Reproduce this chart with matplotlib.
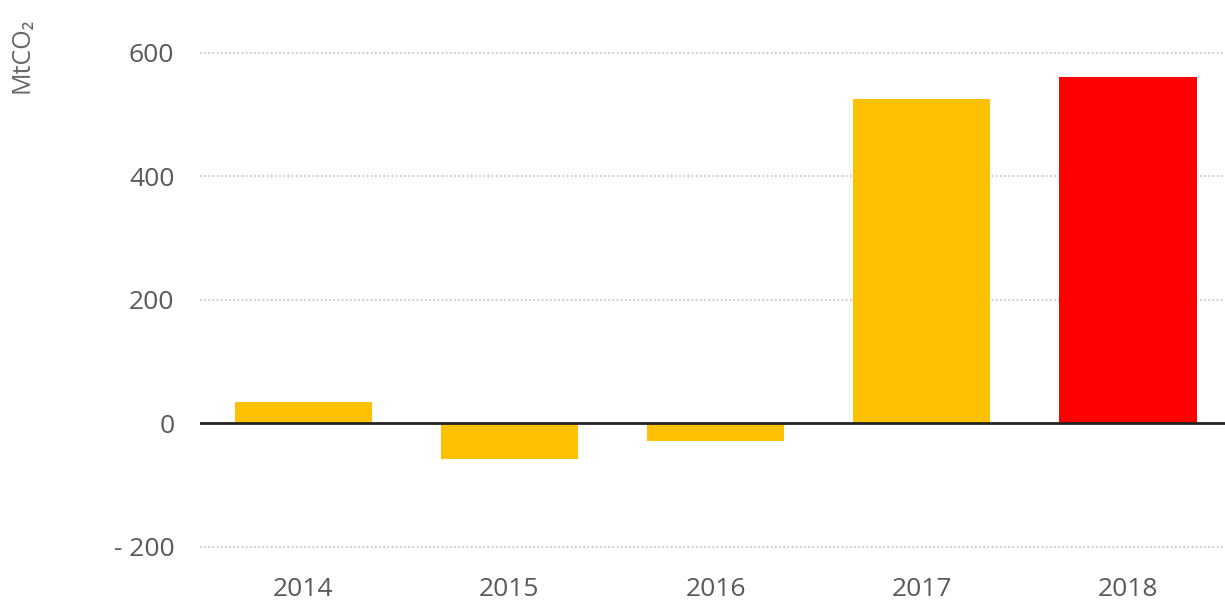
import matplotlib
matplotlib.use("Agg")
import matplotlib.pyplot as plt

# values (MtCO2)
years = ["2014", "2015", "2016", "2017", "2018"]
values = [34, -59, -29, 524, 561]
colors = ["#FFC000", "#FFC000", "#FFC000", "#FFC000", "#FF0000"]
yticks = [-200, 0, 200, 400, 600]
ytick_labels = ["- 200", "0", "200", "400", "600"]

plt.rcParams["font.family"] = ["Open Sans", "DejaVu Sans"]

fig = plt.figure(figsize=(12.25, 6.02), dpi=100)
ax = fig.add_axes([200 / 1225, 0.0716, 1 - 200 / 1225, 0.8822])

x = list(range(len(years)))
ax.bar(x, values, width=0.665, color=colors, zorder=3)

ax.set_xlim(-0.5, 4.47)
ax.set_ylim(-220, 640)

ax.set_yticks(yticks)
ax.set_yticklabels(ytick_labels)
ax.set_xticks(x)
ax.set_xticklabels(years)

# dotted gridlines, solid zero line
for t in yticks:
    if t == 0:
        continue
    ax.axhline(t, color="#BFBFBF", linestyle=(0, (1, 1.5)), linewidth=1.2, zorder=1)
ax.axhline(0, color="#222222", linewidth=2, zorder=4)

for s in ax.spines.values():
    s.set_visible(False)
ax.tick_params(axis="both", length=0, labelsize=19, colors="#595959")
ax.tick_params(axis="y", pad=18.5)
ax.tick_params(axis="x", pad=13)

fig.text(22 / 1225, 1 - 55 / 602, "MtCO₂", rotation=90, ha="center", va="center",
         fontsize=18, color="#666666")

fig.savefig("out.png", dpi=100)
